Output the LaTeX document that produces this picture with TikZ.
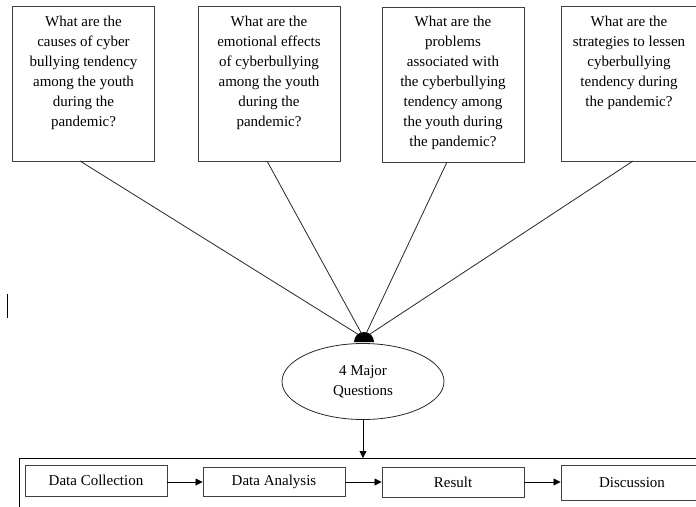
\documentclass[tikz,border=0pt]{standalone}
\usepackage{fontspec}
\setmainfont{Liberation Serif}
\usetikzlibrary{arrows.meta,shapes.geometric}
\begin{document}
\begin{tikzpicture}[x=1pt,y=-1pt,
  qbox/.style={draw=black!75, line width=0.9pt, minimum width=142, minimum height=155, inner sep=0},
  qtext/.style={align=center, font=\fontsize{15}{20}\selectfont, anchor=north, inner sep=0},
  sbox/.style={draw=black!75, line width=0.9pt, minimum width=142, inner sep=0, font=\fontsize{15}{20}\selectfont},
  link/.style={draw=black!85, line width=0.8pt},
  flow/.style={line width=0.8pt, -{Triangle[length=7pt,width=7pt]}}]
\useasboundingbox (0,0) rectangle (696,506);
% question boxes
\node[qbox] (q1) at (83.5,83.5) {};
\node[qbox] (q2) at (269,83.5) {};
\node[qbox] (q3) at (453,84.5) {};
\node[qbox] (q4) at (632,83.5) {};
\node[qtext] (t1) at (83.5,16) {What are the\\causes of cyber\\bullying tendency\\among the youth\\during the\\pandemic?};
\node[qtext] (t2) at (269,16) {What are the\\emotional effects\\of cyberbullying\\among the youth\\during the\\pandemic?};
\node[qtext] (t3) at (453,16) {What are the\\problems\\associated with\\the cyberbullying\\tendency among\\the youth during\\the pandemic?};
\node[qtext] (t4) at (629,16) {What are the\\strategies to lessen\\cyberbullying\\tendency during\\the pandemic?};
% ellipse
\node[draw=black!85, line width=0.8pt, ellipse, minimum width=162, minimum height=76, align=center, inner sep=0,
      font=\fontsize{15}{20}\selectfont] (mq) at (363,381.5) {4 Major\\Questions};
\coordinate (hub) at (364,338);
\coordinate (b1) at (80,161);
\coordinate (b2) at (267,161);
\coordinate (b3) at (447,162);
\coordinate (b4) at (633,161);
\draw[link] (b1) -- (hub);
\draw[link] (b2) -- (hub);
\draw[link] (b3) -- (hub);
\draw[link] (b4) -- (hub);
\fill (354,342) arc[start angle=180, end angle=360, radius=10] -- cycle;
% frame
\coordinate (ftop) at (363,458);
\draw[line width=0.9pt] (19,510) -- (19,458) -- (700,458);
\draw[flow] (mq.south) -- (ftop);
% stages
\node[sbox, minimum height=31] (dc) at (96,480.5) {Data Collection};
\node[sbox, minimum height=29] (da) at (274,481.5) {Data Analysis};
\node[sbox, minimum height=30] (rs) at (453,482) {Result};
\node[sbox, minimum height=35] (ds) at (632,482.5) {Discussion};
\draw[flow] (dc.east |- rs.center) -- (da.west |- rs.center);
\draw[flow] (da.east |- rs.center) -- (rs.west);
\draw[flow] (rs.east) -- (ds.west |- rs.center);
% stray mark
\coordinate (m1) at (7,294);
\coordinate (m2) at (7,318);
\draw[line width=1pt] (m1) -- (m2);
\end{tikzpicture}
\end{document}
